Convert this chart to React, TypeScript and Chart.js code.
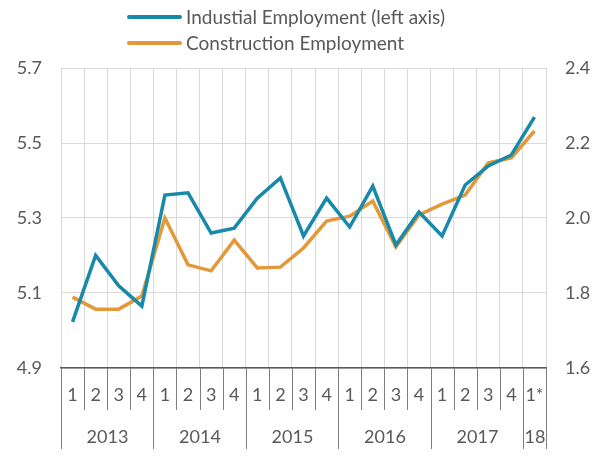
import React, { useEffect, useRef } from "react";
import { Chart, registerables } from "chart.js";
Chart.register(...registerables);

const quarters = ["1", "2", "3", "4", "1", "2", "3", "4", "1", "2", "3", "4", "1", "2", "3", "4", "1", "2", "3", "4", "1*"];
const years = ["2013", "2014", "2015", "2016", "2017", "18"];
const yearSpans = [4, 4, 4, 4, 4, 1];
const industrial = [5.023, 5.2, 5.119, 5.065, 5.361, 5.367, 5.26, 5.273, 5.353, 5.407, 5.252, 5.353, 5.276, 5.385, 5.228, 5.316, 5.252, 5.388, 5.439, 5.468, 5.569];
const construction = [1.789, 1.757, 1.757, 1.792, 2.0, 1.875, 1.859, 1.941, 1.867, 1.869, 1.92, 1.992, 2.005, 2.045, 1.923, 2.008, 2.037, 2.061, 2.147, 2.16, 2.232];
const seriesNames = ["Industial Employment (left axis)", "Construction Employment"];
const leftRange = [4.9, 5.7];
const rightRange = [1.6, 2.4];

const BLUE = "#168aa8";
const ORANGE = "#e3993a";
const TEXT = "#595959";
const GRID = "#d9d9d9";
const FONT = "Lato";

const overlay = {
  id: "overlay",
  afterDraw(chart: any) {
    const ctx = chart.ctx;
    const x = chart.scales.x;
    const area = chart.chartArea;
    const n = quarters.length;
    const w = (area.right - area.left) / n;
    const bound = (k: number) => Math.round(x.getPixelForValue(0) - w / 2 + k * w) + 0.5;
    ctx.save();
    ctx.strokeStyle = "#7f7f7f";
    ctx.lineWidth = 1;
    for (let i = 0; i <= n; i++) {
      const px = bound(i);
      ctx.beginPath();
      ctx.moveTo(px, area.bottom);
      ctx.lineTo(px, area.bottom + 42);
      ctx.stroke();
    }
    let idx = 0;
    ctx.fillStyle = TEXT;
    ctx.font = `18px ${FONT}`;
    ctx.textAlign = "center";
    ctx.textBaseline = "middle";
    for (let j = 0; j < years.length; j++) {
      const a = bound(idx);
      const b = bound(idx + yearSpans[j]);
      ctx.beginPath();
      ctx.moveTo(a, area.bottom + 42);
      ctx.lineTo(a, area.bottom + 84);
      ctx.stroke();
      if (j === years.length - 1) {
        ctx.beginPath();
        ctx.moveTo(b, area.bottom + 42);
        ctx.lineTo(b, area.bottom + 84);
        ctx.stroke();
      }
      ctx.fillText(years[j], (a + b) / 2, area.bottom + 69);
      idx += yearSpans[j];
    }
    const colors = [BLUE, ORANGE];
    ctx.textAlign = "left";
    ctx.font = `19px ${FONT}`;
    for (let k = 0; k < 2; k++) {
      const y = 9 + k * 26;
      ctx.strokeStyle = colors[k];
      ctx.lineWidth = 4;
      ctx.lineCap = "round";
      ctx.beginPath();
      ctx.moveTo(121, y);
      ctx.lineTo(172, y);
      ctx.stroke();
      ctx.fillStyle = TEXT;
      ctx.fillText(seriesNames[k], 178, y + 1);
    }
    ctx.restore();
  },
};

export default function App() {
  const ref = useRef<HTMLCanvasElement>(null);
  useEffect(() => {
    if (!ref.current) return;
    const chart = new Chart(ref.current, {
      type: "line",
      data: {
        labels: quarters,
        datasets: [
          { label: seriesNames[0], data: industrial, borderColor: BLUE, backgroundColor: BLUE, borderWidth: 3.5, pointRadius: 0, yAxisID: "y", tension: 0 },
          { label: seriesNames[1], data: construction, borderColor: ORANGE, backgroundColor: ORANGE, borderWidth: 3.5, pointRadius: 0, yAxisID: "y1", tension: 0 },
        ],
      },
      options: {
        animation: false,
        responsive: false,
        maintainAspectRatio: false,
        layout: { padding: { top: 60, left: 0, right: 0, bottom: 0 } },
        plugins: { legend: { display: false }, tooltip: { enabled: false } },
        scales: {
          x: {
            offset: true,
            grid: { offset: true, color: GRID, drawTicks: false },
            border: { color: "#595959", width: 1.5 },
            ticks: { color: TEXT, font: { family: FONT, size: 18 }, padding: 16, maxRotation: 0, autoSkip: false },
            afterFit: (s: any) => { s.height = 81; },
          },
          y: {
            position: "left",
            min: leftRange[0],
            max: leftRange[1],
            grid: { color: GRID, drawTicks: false },
            border: { display: false },
            ticks: { stepSize: 0.2, color: TEXT, font: { family: FONT, size: 18 }, padding: 19, callback: (v: any) => Number(v).toFixed(1) },
            afterFit: (s: any) => { s.width = 53; },
          },
          y1: {
            position: "right",
            min: rightRange[0],
            max: rightRange[1],
            grid: { display: false, drawTicks: false },
            border: { display: false },
            ticks: { stepSize: 0.2, color: TEXT, font: { family: FONT, size: 18 }, padding: 19, callback: (v: any) => Number(v).toFixed(1) },
            afterFit: (s: any) => { s.width = 47; },
          },
        },
      },
      plugins: [overlay],
    });
    return () => chart.destroy();
  }, []);
  return (
    <div style={{ width: 585, height: 441 }}>
      <canvas ref={ref} width={585} height={441} style={{ display: "block" }} />
    </div>
  );
}
